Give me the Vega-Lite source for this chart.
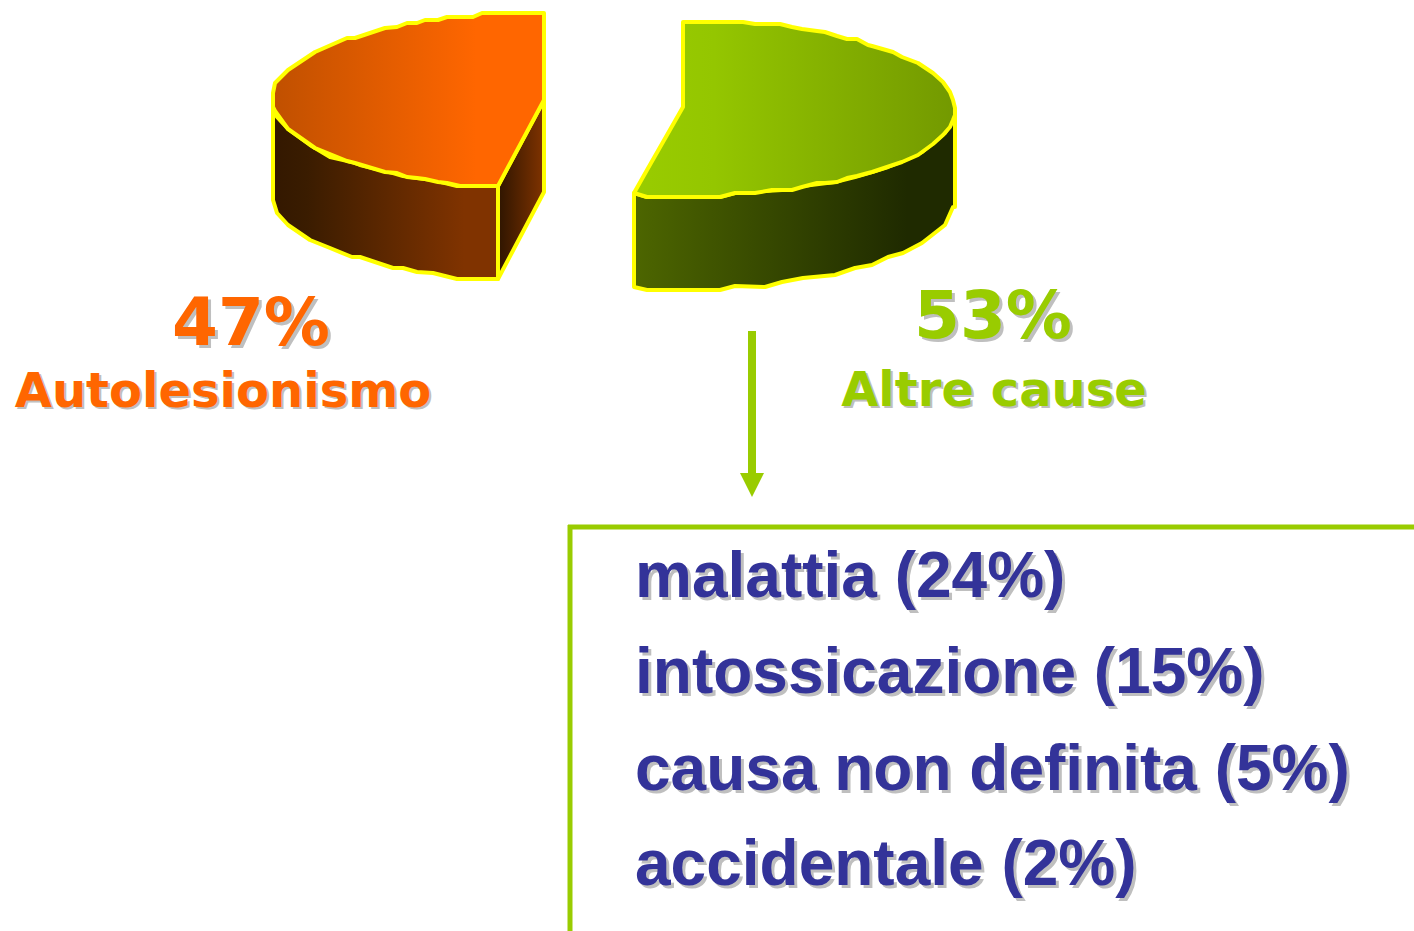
{
"$schema":"https://vega.github.io/schema/vega-lite/v6.json",
"width":1414,"height":931,"padding":0,
"autosize":{"type":"none"},
"background":"white",
"view":{"stroke":null},
"datasets":{
"solid":[
{"part":"orangeSide","h":273,"v":107,"v2":200},{"part":"orangeSide","h":277,"v":117,"v2":213},{"part":"orangeSide","h":288,"v":129,"v2":225},{"part":"orangeSide","h":310,"v":145,"v2":240},{"part":"orangeSide","h":330,"v":157,"v2":248},{"part":"orangeSide","h":352,"v":162,"v2":257},{"part":"orangeSide","h":360,"v":165,"v2":257},{"part":"orangeSide","h":393,"v":173,"v2":268},{"part":"orangeSide","h":403,"v":176,"v2":268},{"part":"orangeSide","h":417,"v":178,"v2":272},{"part":"orangeSide","h":433,"v":180,"v2":273},{"part":"orangeSide","h":457,"v":186,"v2":279},{"part":"orangeSide","h":498,"v":186,"v2":279},
{"part":"orangeWedge","h":498,"v":186,"v2":279},{"part":"orangeWedge","h":544,"v":100,"v2":192},
{"part":"orangeTop","h":273,"v":93,"v2":107},{"part":"orangeTop","h":275,"v":83,"v2":111},{"part":"orangeTop","h":288,"v":70,"v2":129},{"part":"orangeTop","h":315,"v":52,"v2":148},{"part":"orangeTop","h":347,"v":38,"v2":161},{"part":"orangeTop","h":355,"v":38,"v2":163},{"part":"orangeTop","h":385,"v":28,"v2":172},{"part":"orangeTop","h":397,"v":27,"v2":173},{"part":"orangeTop","h":407,"v":23,"v2":177},{"part":"orangeTop","h":417,"v":23,"v2":178},{"part":"orangeTop","h":425,"v":20,"v2":179},{"part":"orangeTop","h":438,"v":20,"v2":182},{"part":"orangeTop","h":447,"v":17,"v2":183},{"part":"orangeTop","h":460,"v":17,"v2":186},{"part":"orangeTop","h":473,"v":17,"v2":186},{"part":"orangeTop","h":482,"v":13,"v2":186},{"part":"orangeTop","h":498,"v":13,"v2":186},{"part":"orangeTop","h":544,"v":13,"v2":100},
{"part":"greenSide","h":634,"v":193,"v2":287},{"part":"greenSide","h":647,"v":197,"v2":290},{"part":"greenSide","h":720,"v":197,"v2":290},{"part":"greenSide","h":735,"v":193,"v2":286},{"part":"greenSide","h":765,"v":191,"v2":287},{"part":"greenSide","h":782,"v":190,"v2":282},{"part":"greenSide","h":803,"v":186,"v2":278},{"part":"greenSide","h":835,"v":182,"v2":275},{"part":"greenSide","h":855,"v":177,"v2":268},{"part":"greenSide","h":872,"v":172,"v2":265},{"part":"greenSide","h":888,"v":167,"v2":257},{"part":"greenSide","h":903,"v":161,"v2":253},{"part":"greenSide","h":922,"v":152,"v2":243},{"part":"greenSide","h":945,"v":133,"v2":225},{"part":"greenSide","h":953,"v":120,"v2":207},{"part":"greenSide","h":955,"v":115,"v2":207},
{"part":"greenTop","h":634,"v":193,"v2":193},{"part":"greenTop","h":647,"v":170,"v2":197},{"part":"greenTop","h":683,"v":107,"v2":197},{"part":"greenTop","h":683,"v":22,"v2":197},{"part":"greenTop","h":720,"v":22,"v2":197},{"part":"greenTop","h":735,"v":22,"v2":193},{"part":"greenTop","h":743,"v":22,"v2":193},{"part":"greenTop","h":755,"v":24,"v2":193},{"part":"greenTop","h":772,"v":24,"v2":190},{"part":"greenTop","h":780,"v":24,"v2":190},{"part":"greenTop","h":792,"v":27,"v2":190},{"part":"greenTop","h":802,"v":29,"v2":187},{"part":"greenTop","h":817,"v":31,"v2":183},{"part":"greenTop","h":825,"v":32,"v2":183},{"part":"greenTop","h":837,"v":36,"v2":182},{"part":"greenTop","h":847,"v":39,"v2":178},{"part":"greenTop","h":857,"v":39,"v2":176},{"part":"greenTop","h":868,"v":45,"v2":173},{"part":"greenTop","h":872,"v":46,"v2":172},{"part":"greenTop","h":893,"v":52,"v2":165},{"part":"greenTop","h":902,"v":57,"v2":162},{"part":"greenTop","h":918,"v":63,"v2":155},{"part":"greenTop","h":933,"v":73,"v2":144},{"part":"greenTop","h":943,"v":82,"v2":135},{"part":"greenTop","h":950,"v":92,"v2":127},{"part":"greenTop","h":953,"v":100,"v2":120},{"part":"greenTop","h":955,"v":108,"v2":115},
{"part":"arrowHead","h":740,"v":473,"v2":473},{"part":"arrowHead","h":752,"v":473,"v2":497},{"part":"arrowHead","h":764,"v":473,"v2":473}
],
"frame":[
{"h":752,"v":331,"h2":752,"v2":474,"part":"shaft"},
{"h":568,"v":527,"h2":1414,"v2":527,"part":"box"},
{"h":570,"v":525,"h2":570,"v2":931,"part":"box"}
],
"labels":[
{"kind":"share","colour":"orange","h":251,"v":345,"label":"47%"},
{"kind":"share","colour":"green","h":993,"v":338,"label":"53%"},
{"kind":"name","colour":"orange","h":223,"v":407,"label":"Autolesionismo"},
{"kind":"name","colour":"green","h":994,"v":406,"label":"Altre cause"},
{"kind":"cause","colour":"blue","h":635,"v":597,"label":"malattia (24%)"},
{"kind":"cause","colour":"blue","h":635,"v":693,"label":"intossicazione (15%)"},
{"kind":"cause","colour":"blue","h":635,"v":790,"label":"causa non definita (5%)"},
{"kind":"cause","colour":"blue","h":635,"v":885,"label":"accidentale (2%)"}
]
},
"encoding":{
"x":{"field":"h","type":"quantitative","axis":null,"scale":{"domain":[0,1414],"nice":false,"zero":false}},
"y":{"field":"v","type":"quantitative","axis":null,"scale":{"domain":[931,0],"nice":false,"zero":false}}
},
"layer":[
{"data":{"name":"solid"},"transform":[{"filter":"datum.part==='greenSide'"}],
"mark":{"type":"area","orient":"vertical","stroke":"#FFFF00","strokeWidth":4,"strokeJoin":"round","fill":{"gradient":"linear","x1":0,"x2":1,"y1":0,"y2":0,"stops":[{"offset":0,"color":"#4D6600"},{"offset":0.85,"color":"#1F2A00"},{"offset":1,"color":"#1F2A00"}]}},
"encoding":{"y2":{"field":"v2"}}},
{"data":{"name":"solid"},"transform":[{"filter":"datum.part==='greenTop'"}],
"mark":{"type":"area","orient":"vertical","stroke":"#FFFF00","strokeWidth":4,"strokeJoin":"round","fill":{"gradient":"linear","x1":0,"x2":1,"y1":0,"y2":0,"stops":[{"offset":0,"color":"#99CC00"},{"offset":0.25,"color":"#94C600"},{"offset":1,"color":"#739900"}]}},
"encoding":{"y2":{"field":"v2"}}},
{"data":{"name":"solid"},"transform":[{"filter":"datum.part==='orangeSide'"}],
"mark":{"type":"area","orient":"vertical","stroke":"#FFFF00","strokeWidth":4,"strokeJoin":"round","fill":{"gradient":"linear","x1":0,"x2":1,"y1":0,"y2":0,"stops":[{"offset":0,"color":"#331800"},{"offset":0.15,"color":"#3A1C00"},{"offset":0.85,"color":"#803300"},{"offset":1,"color":"#803300"}]}},
"encoding":{"y2":{"field":"v2"}}},
{"data":{"name":"solid"},"transform":[{"filter":"datum.part==='orangeWedge'"}],
"mark":{"type":"area","orient":"vertical","stroke":"#FFFF00","strokeWidth":4,"strokeJoin":"round","fill":{"gradient":"linear","x1":0,"x2":1,"y1":0,"y2":0,"stops":[{"offset":0,"color":"#2E1500"},{"offset":1,"color":"#803300"}]}},
"encoding":{"y2":{"field":"v2"}}},
{"data":{"name":"solid"},"transform":[{"filter":"datum.part==='orangeTop'"}],
"mark":{"type":"area","orient":"vertical","stroke":"#FFFF00","strokeWidth":4,"strokeJoin":"round","fill":{"gradient":"linear","x1":0,"x2":1,"y1":0,"y2":0,"stops":[{"offset":0,"color":"#C05000"},{"offset":0.75,"color":"#FF6600"},{"offset":1,"color":"#FF6600"}]}},
"encoding":{"y2":{"field":"v2"}}},
{"data":{"name":"frame"},"transform":[{"filter":"datum.part==='shaft'"}],
"mark":{"type":"rule","color":"#99CC00","strokeWidth":8},
"encoding":{"x2":{"field":"h2"},"y2":{"field":"v2"}}},
{"data":{"name":"solid"},"transform":[{"filter":"datum.part==='arrowHead'"}],
"mark":{"type":"area","orient":"vertical","color":"#99CC00"},
"encoding":{"y2":{"field":"v2"}}},
{"data":{"name":"frame"},"transform":[{"filter":"datum.part==='box'"}],
"mark":{"type":"rule","color":"#99CC00","strokeWidth":5},
"encoding":{"x2":{"field":"h2"},"y2":{"field":"v2"}}},

{"data":{"name":"labels"},"transform":[{"filter":"datum.kind==='share'"}],
"mark":{"type":"text","font":"DejaVu Sans","fontWeight":"bold","fontSize":66,"align":"center","baseline":"alphabetic","color":"#BFBFBF","dx":3,"dy":3},
"encoding":{"text":{"field":"label"}}},
{"data":{"name":"labels"},"transform":[{"filter":"datum.kind==='share'"}],
"mark":{"type":"text","font":"DejaVu Sans","fontWeight":"bold","fontSize":66,"align":"center","baseline":"alphabetic"},
"encoding":{"text":{"field":"label"},"color":{"field":"colour","type":"nominal","legend":null,"scale":{"domain":["orange","green","blue"],"range":["#FF6600","#99CC00","#333399"]}}}},
{"data":{"name":"labels"},"transform":[{"filter":"datum.kind==='name'"}],
"mark":{"type":"text","font":"DejaVu Sans","fontWeight":"bold","fontSize":48,"align":"center","baseline":"alphabetic","color":"#BFBFBF","dx":2,"dy":2},
"encoding":{"text":{"field":"label"}}},
{"data":{"name":"labels"},"transform":[{"filter":"datum.kind==='name'"}],
"mark":{"type":"text","font":"DejaVu Sans","fontWeight":"bold","fontSize":48,"align":"center","baseline":"alphabetic"},
"encoding":{"text":{"field":"label"},"color":{"field":"colour","type":"nominal","legend":null,"scale":{"domain":["orange","green","blue"],"range":["#FF6600","#99CC00","#333399"]}}}},
{"data":{"name":"labels"},"transform":[{"filter":"datum.kind==='cause'"}],
"mark":{"type":"text","font":"Liberation Sans","fontWeight":"bold","fontSize":64,"align":"left","baseline":"alphabetic","color":"#BFBFBF","dx":3,"dy":3},
"encoding":{"text":{"field":"label"}}},
{"data":{"name":"labels"},"transform":[{"filter":"datum.kind==='cause'"}],
"mark":{"type":"text","font":"Liberation Sans","fontWeight":"bold","fontSize":64,"align":"left","baseline":"alphabetic"},
"encoding":{"text":{"field":"label"},"color":{"field":"colour","type":"nominal","legend":null,"scale":{"domain":["orange","green","blue"],"range":["#FF6600","#99CC00","#333399"]}}}}
]
}
